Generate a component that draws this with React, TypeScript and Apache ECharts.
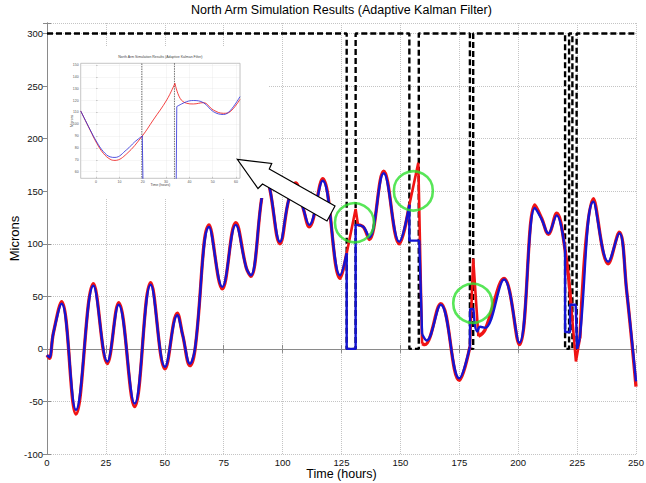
import React, { useEffect, useRef } from 'react';
import * as echarts from 'echarts';

type Pt = [number, number];

const FONT = 'Liberation Sans, Arial, sans-serif';

// ---- Main chart data (Time in hours, Microns) ----
// Signal availability (black dashed): 300 = available, 0 = lost
const signalPts: Pt[] = [
  [0, 300], [127.2, 300], [127.2, 0], [131, 0], [131, 300],
  [153.8, 300], [153.8, 0], [157.8, 0], [157.8, 300],
  [179.5, 300], [179.5, 0], [180.9, 0], [180.9, 300],
  [219.9, 300], [219.9, 0], [221.6, 0], [221.6, 300],
  [223, 300], [223, 0], [224.8, 0], [224.8, 300], [250, 300],
];

// Actual motion (red), smooth pieces and sharp pieces
const redSmooth1: Pt[] = [
  [0, -6], [1, -9], [2.7, 15], [6.2, 45], [12.3, -62], [19.7, 62], [25.6, -14],
  [30.4, 44], [37.2, -55], [44, 63], [50.1, -19], [55.3, 34], [57.6, 13],
  [60.7, -16], [62.8, -1], [68.8, 118], [74.4, 57], [80.1, 120], [84.6, 77],
  [86.5, 69], [91.1, 143], [93, 165], [94.6, 152], [98.9, 100], [102.6, 142],
  [105.5, 158], [108.7, 134], [111.3, 116], [117, 162], [124.4, 67], [127.2, 91],
];
const redSharp1: Pt[] = [[127.2, 91], [131, 133], [132, 118]];
const redSmooth2: Pt[] = [
  [132, 118], [134.3, 116], [136.8, 104], [142.9, 169], [149.5, 100], [153.8, 137],
];
const redSharp2: Pt[] = [[153.8, 137], [157.6, 177], [159.2, 5]];
const redSmooth3: Pt[] = [[159.2, 5], [160.4, 4], [167.1, 43], [175, -30], [179.5, 2]];
const redSharp3: Pt[] = [[179.5, 2], [180.9, 86], [183.1, 12]];
const redSmooth4: Pt[] = [
  [183.1, 12], [185.9, 18], [194, 67], [200.5, 4], [207.1, 137], [210, 124],
  [212.8, 109], [216.3, 129], [219.9, 94], [222.5, 40],
];
const redSharp4: Pt[] = [[222.5, 40], [224.5, -12], [226.2, 10]];
const redSmooth5: Pt[] = [
  [226.2, 10], [231.9, 143], [238.2, 81], [242.9, 111], [246, 56], [250, -36],
];

// Kalman estimate (blue)
const blueSmooth1: Pt[] = [
  [0, -6], [1, -8], [2.7, 15], [6.2, 43], [12.3, -58], [19.7, 60], [25.6, -12],
  [30.4, 42], [37.2, -52], [44, 61], [50.1, -17], [55.3, 32], [57.6, 13],
  [60.7, -14], [62.8, 0], [68.8, 116], [74.4, 59], [80.1, 118], [84.6, 77],
  [86.5, 70], [91.1, 143], [93, 163], [94.6, 152], [98.9, 102], [102.6, 142],
  [105.5, 156], [108.7, 134], [111.3, 118], [117, 160], [124.4, 70], [127.2, 91],
];
const blueHold1: Pt[] = [[127.2, 91], [127.2, 0], [131, 0], [131, 118], [131.4, 118]];
const blueSmooth2: Pt[] = [
  [131.4, 118], [134.3, 116], [136.8, 106], [142.9, 167], [149.5, 102], [153.8, 137],
];
const blueHold2: Pt[] = [[153.8, 137], [153.8, 103], [158, 103], [159.2, 14]];
const blueSmooth3: Pt[] = [[159.2, 14], [161.1, 8], [167.1, 42], [175, -28], [179.5, 2]];
const blueHold3: Pt[] = [[179.5, 2], [179.6, 38], [181, 38], [181.5, 24]];
const blueSmooth4: Pt[] = [
  [181.5, 24], [182.6, 16.5], [183.8, 21], [185.9, 20], [194, 66], [200.5, 6],
  [207.1, 134], [210, 123], [212.8, 110], [216.3, 127], [219.9, 94],
];
const blueHold4: Pt[] = [[219.9, 94], [219.9, 16], [222, 16], [222, 42], [224.4, 42], [225, 0]];
const blueSmooth5: Pt[] = [
  [225, 0], [226.2, 12], [231.9, 140], [238.2, 83], [242.9, 110], [246, 56], [250, -31],
];

// Highlighted estimation errors (green circles)
const circlePts: Pt[] = [[130.5, 120], [155.5, 150.3], [180.7, 43.5]];

// ---- Inset (zoomed view) data ----
const insetSignal: Pt[] = [[-6.6, 300], [19.6, 300], [19.6, 0], [33.6, 0], [33.6, 300], [61.7, 300]];
const insetRedA: Pt[] = [
  [-6.6, 111.2], [-2.6, 95.2], [0.3, 83.9], [3.1, 75.5], [6, 70.5], [8.1, 69.5],
  [13.1, 75], [19.8, 90.1], [24.5, 103.6], [30.3, 120.5], [33.8, 134.5],
];
const insetRedB: Pt[] = [
  [33.8, 134.5], [36, 121.9], [38.8, 117.7], [41.7, 117.1], [46, 118.2],
  [50.3, 112], [54.6, 109.2], [57.5, 110.6], [61.7, 121],
];
const insetBlueA: Pt[] = [
  [-6.6, 111.2], [-2.6, 95.5], [0.3, 85], [3.1, 77], [6, 72.5], [8.1, 72],
  [13.1, 78.5], [16.5, 85], [19.8, 90.1],
];
const insetBlueDrop: Pt[] = [[19.8, 90.1], [20.2, 40], [34.3, 40], [34.6, 114.9]];
const insetBlueB: Pt[] = [
  [34.6, 114.9], [38.8, 119], [41.7, 120], [46, 118.2], [50.3, 110.6],
  [54.6, 108.2], [57.5, 111.5], [61.7, 123.3],
];

const RED = '#f01414';
const BLUE = '#1414d2';

function lineSeries(data: Pt[], color: string, width: number, smooth: number | boolean, z: number, axis = 0) {
  return {
    type: 'line',
    xAxisIndex: axis,
    yAxisIndex: axis,
    data,
    smooth,
    symbol: 'none',
    z,
    lineStyle: { color, width },
    silent: true,
  };
}

export default function App() {
  const ref = useRef<HTMLDivElement>(null);

  useEffect(() => {
    if (!ref.current) return;
    const chart = echarts.init(ref.current, undefined, { renderer: 'svg' });

    const frameColor = '#8a8a8a';
    const gridLine = { show: true, lineStyle: { color: '#c4c4c4', type: 'dotted', width: 1 } };
    const tick = { show: true, inside: true, length: 4, lineStyle: { color: frameColor } };
    const labelStyle = { fontSize: 9.5, color: '#111', fontFamily: FONT };

    const insetAxisCommon = {
      gridIndex: 1,
      z: 7,
      axisLine: { show: false },
      axisTick: { show: true, inside: true, length: 1.5, lineStyle: { color: '#999', width: 0.5 } },
      splitLine: { show: true, lineStyle: { color: '#d8d8d8', type: 'dotted', width: 0.5 } },
      axisLabel: { fontSize: 3.5, color: '#555', margin: 2, showMinLabel: false, showMaxLabel: false, fontFamily: FONT },
      nameLocation: 'middle',
      nameMoveOverlap: false,
      nameTextStyle: { fontSize: 3.5, color: '#444', fontFamily: FONT },
    };

    const smoothV = 0.4;

    const series: any[] = [
      {
        type: 'line', xAxisIndex: 0, yAxisIndex: 0, data: signalPts, symbol: 'none', z: 2,
        lineStyle: { color: '#000', width: 2.4, type: [6, 3] }, silent: true,
      },
      lineSeries(redSmooth1, RED, 3.3, smoothV, 3),
      lineSeries(redSharp1, RED, 2.6, false, 3),
      lineSeries(redSmooth2, RED, 3.3, smoothV, 3),
      lineSeries(redSharp2, RED, 2.6, false, 3),
      lineSeries(redSmooth3, RED, 3.3, smoothV, 3),
      lineSeries(redSharp3, RED, 2.6, false, 3),
      lineSeries(redSmooth4, RED, 3.3, smoothV, 3),
      lineSeries(redSharp4, RED, 2.6, false, 3),
      lineSeries(redSmooth5, RED, 3.3, smoothV, 3),
      lineSeries(blueSmooth1, BLUE, 2.4, smoothV, 4),
      lineSeries(blueHold1, BLUE, 2.4, false, 4),
      lineSeries(blueSmooth2, BLUE, 2.4, smoothV, 4),
      lineSeries(blueHold2, BLUE, 2.4, false, 4),
      lineSeries(blueSmooth3, BLUE, 2.4, smoothV, 4),
      lineSeries(blueHold3, BLUE, 2.4, false, 4),
      lineSeries(blueSmooth4, BLUE, 2.4, smoothV, 4),
      lineSeries(blueHold4, BLUE, 2.4, false, 4),
      lineSeries(blueSmooth5, BLUE, 2.4, smoothV, 4),
      {
        type: 'scatter', xAxisIndex: 0, yAxisIndex: 0, data: circlePts, symbol: 'circle',
        symbolSize: 39, z: 10, silent: true,
        itemStyle: { color: 'rgba(0,0,0,0)', borderColor: '#2ee02e', borderWidth: 2.6 },
      },
      {
        type: 'line', xAxisIndex: 2, yAxisIndex: 2, data: insetSignal, symbol: 'none', z: 8,
        lineStyle: { color: '#333', width: 0.7, type: [1.5, 1] }, silent: true,
      },
      lineSeries(insetRedA, RED, 0.8, 0.4, 8, 2),
      lineSeries(insetRedB, RED, 0.8, 0.4, 8, 2),
      lineSeries(insetBlueA, '#2a2ad8', 0.8, 0.4, 9, 2),
      lineSeries(insetBlueDrop, '#2a2ad8', 0.8, false, 9, 2),
      lineSeries(insetBlueB, '#2a2ad8', 0.8, 0.4, 9, 2),
    ];

    chart.setOption({
      animation: false,
      backgroundColor: '#fff',
      grid: [
        { left: 47, right: 10, top: 23, bottom: 29, containLabel: false, outerBoundsMode: 'none' },
        {
          left: 80.7, top: 63.3, width: 159.3, height: 115, show: true, containLabel: false,
          outerBoundsMode: 'none',
          backgroundColor: '#fff', borderColor: '#9a9a9a', borderWidth: 0.6, z: 6,
        },
      ],
      xAxis: [
        {
          type: 'value', gridIndex: 0, min: 0, max: 250, interval: 25, position: 'bottom',
          name: 'Time (hours)', nameLocation: 'middle', nameGap: 13.5, nameMoveOverlap: false,
          nameTextStyle: { fontSize: 12.5, lineHeight: 13, color: '#000', fontFamily: FONT },
          axisLine: { show: true, lineStyle: { color: frameColor } },
          axisTick: tick, axisLabel: { ...labelStyle, margin: 3, lineHeight: 10 }, splitLine: gridLine,
        },
        {
          type: 'value', gridIndex: 0, min: 0, max: 250, interval: 25, position: 'top',
          axisLine: { show: true, lineStyle: { color: frameColor } },
          axisTick: tick, axisLabel: { show: false }, splitLine: { show: false },
        },
        {
          ...insetAxisCommon, type: 'value', min: -6.6, max: 61.7, splitNumber: 7,
          position: 'bottom', name: 'Time (hours)', nameGap: 5,
        },
      ],
      yAxis: [
        {
          type: 'value', gridIndex: 0, min: -100, max: 310, interval: 50, position: 'left',
          name: 'Microns', nameLocation: 'middle', nameGap: 26, nameMoveOverlap: false,
          nameTextStyle: { fontSize: 13, color: '#000', fontFamily: FONT },
          axisLine: { show: true, lineStyle: { color: frameColor } },
          axisTick: tick,
          axisLabel: {
            ...labelStyle, margin: 4,
            formatter: (v: number) => (v % 50 === 0 ? String(v) : ''),
          },
          splitLine: gridLine,
        },
        {
          type: 'value', gridIndex: 0, min: -100, max: 310, interval: 50, position: 'right',
          axisLine: { show: true, lineStyle: { color: frameColor } },
          axisTick: tick, axisLabel: { show: false }, splitLine: { show: false },
        },
        {
          ...insetAxisCommon, type: 'value', min: 54.4, max: 151.4, splitNumber: 10,
          position: 'left', name: 'Microns', nameGap: 7,
        },
      ],
      graphic: [
        {
          type: 'text', x: 341.5, y: 3, z: 20,
          style: {
            text: 'North Arm Simulation Results (Adaptive Kalman Filter)',
            fill: '#000', font: `12.5px ${FONT}`, align: 'center', verticalAlign: 'top',
          },
        },
        {
          type: 'rect', z: 5, silent: true,
          shape: { x: 48, y: 47, width: 220, height: 151 },
          style: { fill: '#fff' },
        },
        {
          type: 'text', x: 160.4, y: 55, z: 8,
          style: {
            text: 'North Arm Simulation Results (Adaptive Kalman Filter)',
            fill: '#444', font: `3.5px ${FONT}`, align: 'center', verticalAlign: 'top',
          },
        },
        {
          type: 'polygon', z: 9, silent: true,
          shape: {
            points: [
              [237.3, 159.3], [271.7, 163.5], [269.3, 169], [335, 206],
              [327, 221], [262.5, 184], [258, 188.5],
            ],
          },
          style: { fill: '#fff', stroke: '#000', lineWidth: 1.2 },
        },
      ],
      series,
    });

    return () => chart.dispose();
  }, []);

  return (
    <div
      ref={ref}
      style={{ position: 'fixed', left: 0, top: 0, width: 646, height: 483, background: '#fff' }}
    />
  );
}
